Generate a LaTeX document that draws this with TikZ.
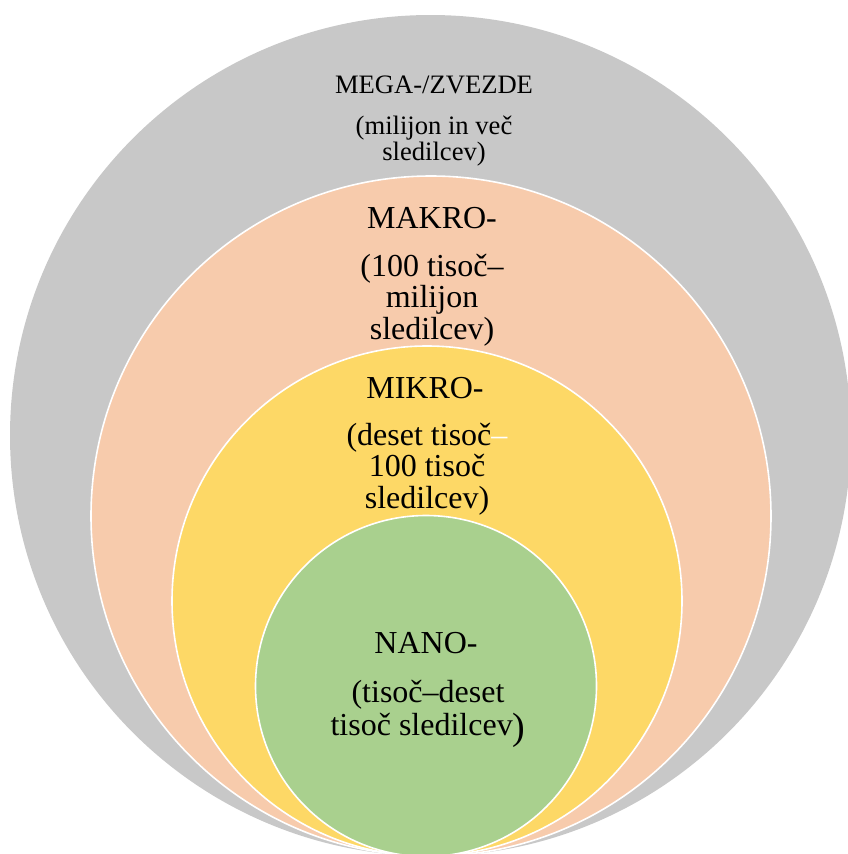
\documentclass[tikz,border=0pt]{standalone}
\usepackage{fontspec}
\setmainfont{Liberation Serif}
\usepackage{tikz}
\usetikzlibrary{positioning}

\definecolor{megagray}{HTML}{C8C8C8}
\definecolor{makropeach}{HTML}{F7CBAC}
\definecolor{mikroyellow}{HTML}{FDD866}
\definecolor{nanogreen}{HTML}{A9D08E}

\tikzset{
  ring/.style={circle, draw=white, line width=1.6pt, inner sep=0pt},
  head/.style={anchor=base, inner sep=0pt, font=\fontsize{32}{32}\selectfont},
  body/.style={anchor=base, inner sep=0pt, align=center, font=\fontsize{32}{31.5}\selectfont},
}

\begin{document}
\begin{tikzpicture}[x=1pt,y=-1pt]
    \useasboundingbox (0,0) rectangle (848,854);

    % the four nested circles, all touching at the bottom
    \node[ring, draw=none, fill=megagray, minimum size=841pt] (mega) at (430.5,435.5) {};
    \node[ring, fill=makropeach, minimum size=680pt] (makro) at (431,516) {};
    \node[ring, fill=mikroyellow, minimum size=510pt] (mikro) at (427,601) {};
    \node[ring, fill=nanogreen, minimum size=341pt] (nano) at (426,686) {};

    % labels (body nodes sit on the baseline of their last line)
    \node[head, font=\fontsize{26.6}{26}\selectfont] (megahead) at (434,93) {MEGA-/ZVEZDE};
    \node[body, font=\fontsize{26.6}{26}\selectfont] (megatext) at (434,160) {(milijon in več\\sledilcev)};

    \node[head] (makrohead) at (432,228) {MAKRO-};
    \node[body] (makrotext) at (432,339) {(100 tisoč–\\milijon\\sledilcev)};

    \node[head] (mikrohead) at (425,398) {MIKRO-};
    \node[body] (mikrotext) at (427,508) {(deset tisoč\textcolor{white}{–}\\100 tisoč\\sledilcev)};

    \node[head] (nanohead) at (426,653) {NANO-};
    \node[body, font=\fontsize{32}{33}\selectfont] (nanotext) at (428,735) {(tisoč–deset\\tisoč sledilcev\raisebox{-4pt}{\fontsize{38}{38}\selectfont)}};
\end{tikzpicture}
\end{document}
